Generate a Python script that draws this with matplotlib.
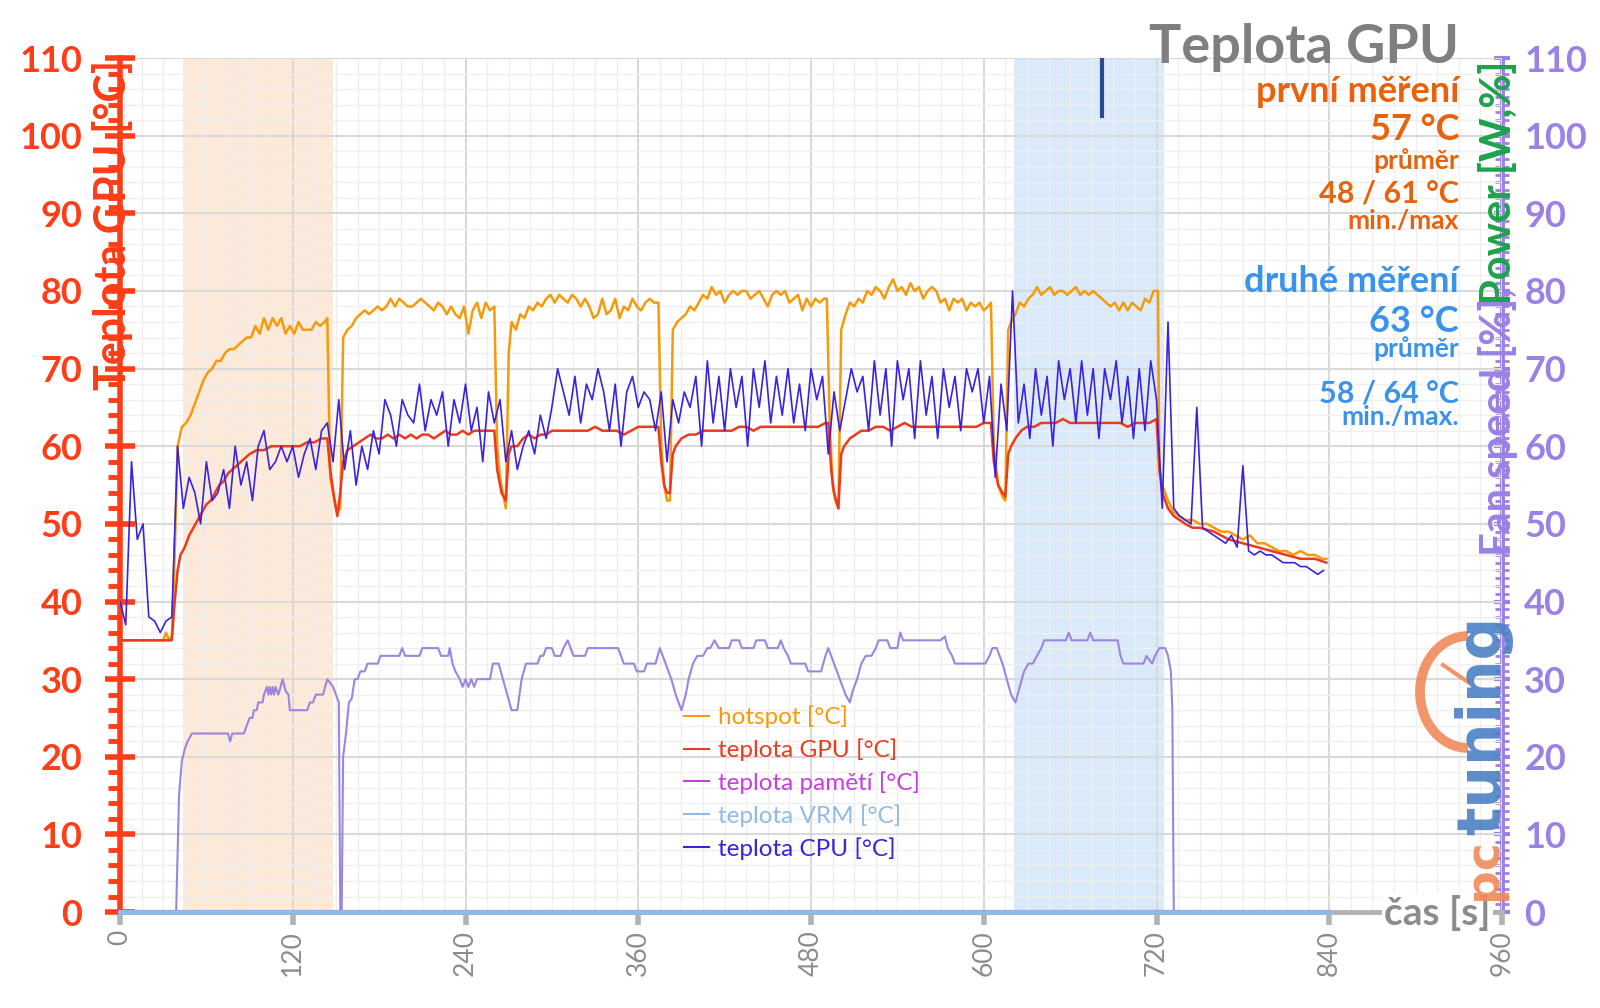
import numpy as np
import matplotlib
matplotlib.use("Agg")
import matplotlib.pyplot as plt
from matplotlib.patches import Arc
from matplotlib.lines import Line2D
from matplotlib.transforms import IdentityTransform

plt.rcParams["font.family"] = ["Lato", "DejaVu Sans"]

# ---- data ----
hot_t = [0, 30, 32, 34, 36, 38, 40, 43, 46, 49, 52, 55, 58, 61, 64, 67, 70, 73, 76, 79, 82, 85, 88, 91, 94, 97,
         100, 103, 106, 109, 112, 115, 118, 121, 124, 127, 130, 133, 136, 139, 142, 144, 146, 148, 151, 153, 155,
         158, 161, 164, 167, 170, 173, 176, 179, 182, 185, 188, 191, 194, 197, 200, 203, 206, 209, 212, 215, 218,
         221, 224, 227, 230, 233, 236, 239, 242, 245, 248, 251, 254, 257, 260, 262, 264, 266, 268, 270, 272, 275,
         278, 281, 284, 287, 290, 293, 296, 299, 302, 305, 308, 311, 314, 317, 320, 323, 326, 329, 332, 335, 338,
         341, 344, 347, 350, 353, 356, 359, 362, 365, 368, 371, 374, 376, 378, 380, 382, 384, 387, 390, 393, 396,
         399, 402, 405, 408, 411, 414, 417, 420, 423, 426, 429, 432, 435, 438, 441, 444, 447, 450, 453, 456, 459,
         462, 465, 468, 471, 474, 477, 480, 483, 486, 489, 491, 493, 495, 497, 499, 501, 504, 507, 510, 513, 516,
         519, 522, 525, 528, 531, 534, 537, 540, 543, 546, 549, 552, 555, 558, 561, 564, 567, 570, 573, 576, 579,
         582, 585, 588, 591, 594, 597, 600, 603, 605, 607, 610, 613, 615, 617, 619, 622, 625, 628, 631, 634, 637,
         640, 643, 646, 649, 652, 655, 658, 661, 664, 667, 670, 673, 676, 679, 682, 685, 688, 691, 694, 697, 700,
         703, 706, 709, 712, 715, 718, 721, 722, 724, 728, 732, 736, 740, 745, 750, 755, 760, 765, 770, 775, 780,
         785, 790, 795, 800, 805, 810, 815, 820, 825, 830, 835, 838]
hot_v = [35, 35, 36, 35, 35.5, 46, 60, 62.5, 63, 64, 65.5, 67, 68.5, 69.5, 70, 71, 71, 72, 72.5, 72.5, 73, 73.5, 74,
         74, 75.5, 74.5, 76.5, 75, 76.5, 75.5, 76.5, 74.5, 75.5, 74.5, 76, 75, 75, 75, 76, 75.5, 76, 76.5, 56, 54,
         51.5, 52, 74, 75, 75.5, 76.5, 77, 77.5, 77, 77.5, 78, 77.5, 78, 79, 78, 79, 78.5, 78, 78, 78.5, 79, 78.5,
         78, 77.5, 78.5, 78, 77, 78, 77, 76.5, 78, 74.5, 77.5, 78.5, 76.5, 78.5, 77.5, 78, 60, 56, 54, 52, 72, 76,
         75, 77, 76.5, 78, 77.5, 78.5, 78, 79, 79.5, 78.5, 79.5, 79, 78.5, 79.5, 79, 78, 79, 78, 76.5, 77, 79, 77,
         77.5, 79, 76.5, 78, 77.5, 79, 78, 77.5, 78.5, 79, 78.5, 78.5, 60, 55, 53, 53, 75, 76, 76.5, 77, 78, 77.5,
         78.5, 79.5, 79, 80.5, 79.5, 80, 78.5, 79.5, 80, 79.5, 80, 80, 79, 79.5, 80, 79, 78, 79.5, 80, 79.5, 80,
         78.5, 79, 79.5, 77.5, 79, 78, 79, 78.5, 79, 79, 63, 55, 53, 52, 75, 77, 78.5, 78, 79, 78.5, 80, 79.5, 80.5,
         80, 79, 80.5, 81.5, 80, 80.5, 79.5, 81, 80, 80.5, 79, 80, 80.5, 80, 78.5, 79, 77.5, 79, 78.5, 79, 77.5,
         78.5, 78, 78.5, 77.5, 78, 78.5, 60, 55, 53.5, 53, 75, 76, 77, 78.5, 78, 79, 79.5, 80.5, 79.5, 80, 80.5,
         79.5, 80, 80, 79.5, 80, 80.5, 79.5, 80, 79.5, 80, 79.5, 79, 78.5, 78, 78.5, 77.5, 78.5, 77.5, 78.5, 78,
         77.5, 79, 78.5, 80, 80, 57, 55, 53, 51.5, 51, 50.5, 50.5, 50, 50, 49.5, 49, 49, 48.5, 48, 48.5, 47.5,
         47.5, 47, 46.5, 46.5, 46, 46.5, 46, 46, 45.5, 45.5]

gpu_t = [0, 36, 38, 40, 42, 45, 48, 51, 54, 57, 60, 63, 66, 69, 72, 75, 78, 81, 84, 87, 90, 95, 100, 105, 110, 115,
         120, 125, 130, 135, 140, 144, 146, 149, 151, 153, 155, 158, 162, 166, 170, 174, 178, 182, 186, 190, 194,
         198, 202, 206, 210, 214, 218, 222, 226, 230, 234, 238, 242, 246, 250, 254, 258, 260, 262, 265, 268, 270,
         272, 276, 280, 284, 288, 292, 296, 300, 305, 310, 315, 320, 325, 330, 335, 340, 345, 350, 355, 360, 365,
         370, 374, 376, 378, 380, 382, 384, 386, 390, 395, 400, 405, 410, 415, 420, 425, 430, 435, 440, 445, 450,
         455, 460, 465, 470, 475, 480, 485, 490, 492, 494, 496, 499, 501, 503, 507, 511, 515, 520, 525, 530, 535,
         540, 545, 550, 555, 560, 565, 570, 575, 580, 585, 590, 595, 600, 605, 607, 610, 613, 615, 617, 619, 622,
         626, 630, 635, 640, 645, 650, 655, 660, 665, 670, 675, 680, 685, 690, 695, 700, 705, 710, 715, 720, 722,
         724, 728, 732, 736, 740, 745, 750, 760, 770, 780, 790, 800, 810, 820, 830, 838]
gpu_v = [35, 35, 40, 44, 46, 47, 48.5, 49.5, 50.5, 51.5, 52.5, 53, 54, 55, 55.5, 56.5, 57, 57.5, 58, 58.5, 59, 59.5,
         59.5, 60, 60, 60, 60, 60, 60.5, 60.5, 61, 61, 57, 53, 51, 54, 58, 59.5, 60, 60.5, 61, 61.5, 61, 61, 61.5,
         61, 61.5, 61, 61.5, 61, 61.5, 61.5, 61, 61.5, 62, 61.5, 61.5, 62, 61.5, 62, 62, 62, 62, 62, 57, 54, 53,
         59, 60, 60, 61, 61.5, 61, 61.5, 61.5, 62, 62, 62, 62, 62, 62, 62.5, 62, 62, 62, 61.5, 62, 62.5, 62.5,
         62.5, 62.5, 58, 55, 54, 54, 59, 60, 61, 61.5, 61.5, 62, 62, 62, 62, 62, 62.5, 62.5, 62, 62.5, 62.5, 62.5,
         62.5, 62.5, 62.5, 62.5, 62.5, 62.5, 63, 63, 57, 54, 52, 59, 60, 61, 61.5, 62, 62, 62.5, 62.5, 62, 62.5,
         63, 62.5, 62.5, 62.5, 62.5, 62.5, 62.5, 62.5, 62.5, 62.5, 62.5, 63, 63, 58, 55, 54, 53.5, 59, 60, 61, 62,
         62.5, 62.5, 63, 63, 63, 63.5, 63, 63, 63, 63, 63, 63, 63, 63, 62.5, 63, 63, 63, 63.5, 57, 54, 52, 51,
         50.5, 50, 49.5, 49.5, 49, 48, 47.5, 47, 46.5, 46, 45.5, 45.5, 45]

# CPU sampled every 4 s
cpu_step = 4
cpu_v = [40, 37, 58, 48, 50, 38, 37.5, 36, 37.5, 38, 60, 52, 56, 54, 50, 58, 53, 54, 57, 52, 60, 55, 58, 53, 60,
         62, 57, 58, 60, 58, 60, 56, 59, 61, 57, 62, 63, 58, 66, 57, 62, 55, 60, 57, 62, 59, 66, 64, 60, 66, 64,
         63, 68, 62, 66, 64, 67, 60, 66, 63, 68, 62, 65, 58, 67, 63, 66, 58, 62, 57, 60, 62, 59, 64, 61, 65, 70,
         67, 64, 69, 63, 68, 66, 70, 67, 62, 68, 60, 67, 69, 65, 67, 66, 62, 67, 58, 66, 63, 67, 65, 69, 60, 71,
         63, 69, 62, 70, 65, 69, 60, 70, 65, 71, 63, 69, 64, 70, 63, 68, 62, 70, 66, 69, 59, 67, 62, 66, 70, 67,
         69, 62, 71, 64, 70, 60, 71, 66, 70, 61, 71, 64, 69, 61, 70, 65, 69, 62, 70, 67, 70, 63, 69, 56, 68, 62,
         80, 63, 68, 61, 70, 64, 69, 60, 71, 66, 70, 63, 71, 64, 70, 61, 70, 66, 71, 63, 69, 61, 70, 62, 71, 66,
         52, 76, 52, 51, 50.5, 50, 65, 49.5, 49, 48.5, 48, 47.5, 48.5, 47, 57.5, 46.5, 46, 46.5, 46, 46, 45.5,
         45, 45, 45, 44.5, 44.5, 44, 43.5, 44]
cpu_t = np.arange(len(cpu_v)) * cpu_step

fan_t = [0, 39, 41, 43, 45, 47, 50, 75, 76.5, 78, 86, 88, 90, 92, 93, 95, 96, 99, 100, 102, 103, 104, 105, 106, 107,
         108, 110, 113, 115, 117, 118, 130, 132, 134, 136, 141, 144, 146, 148, 150, 152, 153, 154, 155, 157, 159,
         161, 163, 165, 167, 170, 172, 179, 181, 194, 196, 198, 208, 210, 221, 223, 228, 229, 231, 233, 236, 238,
         240, 242, 244, 246, 248, 257, 259, 263, 266, 269, 272, 276, 279, 282, 290, 292, 294, 296, 300, 302, 306,
         308, 311, 313, 315, 323, 325, 346, 348, 350, 357, 359, 364, 366, 372, 375, 377, 379, 383, 386, 390, 393,
         395, 398, 401, 405, 408, 410, 413, 416, 423, 425, 430, 432, 440, 442, 448, 450, 457, 459, 461, 464, 466,
         476, 478, 487, 490, 492, 494, 496, 500, 504, 507, 509, 512, 515, 518, 522, 525, 527, 533, 535, 540, 542,
         544, 570, 573, 575, 578, 580, 601, 604, 606, 609, 611, 613, 616, 619, 622, 625, 628, 631, 634, 637, 640,
         642, 657, 659, 661, 672, 674, 676, 693, 695, 697, 711, 713, 715, 717, 719, 722, 726, 728, 730, 731, 732,
         840]
fan_v = [0, 0, 15, 19.5, 21, 22, 23, 23, 22, 23, 23, 24, 25, 25, 26, 26, 27, 27, 28, 29, 28, 29, 28, 29, 28, 29, 28,
         30, 28.5, 28, 26, 26, 27, 27, 28, 28, 30, 29.5, 29, 28, 27, 0, 0, 20, 23, 27, 27.5, 30, 30, 31, 31, 32,
         32, 33, 33, 34, 33, 33, 34, 34, 33, 33, 34, 32, 31, 30, 29, 30, 29, 30, 29, 30, 30, 32, 32, 30, 28, 26,
         26, 30, 32, 32, 33, 33, 34, 34, 33, 33, 34, 35, 34, 33, 33, 34, 34, 33, 32, 32, 31, 31, 32, 32, 34, 33,
         32, 30, 28, 26, 28, 30, 32, 33, 33, 34, 34, 35, 34, 34, 35, 35, 34, 34, 35, 35, 34, 34, 35, 34, 33, 32,
         32, 31, 31, 33, 34, 33, 32, 30, 28, 27, 28.5, 30, 32, 33, 33, 34, 35, 35, 34, 34, 36, 35, 35, 35.5, 34,
         33, 32, 32, 33, 34, 34, 33, 32, 30, 28, 27, 29, 31, 32, 32, 33, 34, 35, 35, 36, 35, 35, 36, 35, 35, 33,
         32, 32, 33, 32.5, 32, 33, 34, 34, 33, 31, 26, 0, 0]

zero_t = [0, 840]
zero_v = [0, 0]
spike_t = [682, 682]
spike_v = [102.5, 110]

first_run = (44, 148)
second_run = (621, 725)

c_hot = "#f59a0a"
c_gpu = "#ee3a1c"
c_mem = "#c83ee0"
c_vrm = "#8fbbe6"
c_cpu = "#3a22e0"
c_fan = "#9a86e0"
c_left = "#ff3d17"
c_right = "#9b80e6"
c_gray = "#8c8c8c"

fig = plt.figure(figsize=(16, 10.08), dpi=100)
ax = fig.add_axes([0.075, 0.0952, 0.86375, 0.8472])
ax2 = ax.twinx()

ax.axvspan(*first_run, color="#fde9d8", zorder=0.1, lw=0)
ax.axvspan(*second_run, color="#dbeafb", zorder=0.1, lw=0)

ax.set_xlim(0, 960)
ax.set_ylim(0, 110)
ax2.set_ylim(0, 110)
ax.set_xticks(range(0, 961, 120))
ax.set_xticks(range(0, 961, 15), minor=True)
ax.set_yticks(range(0, 111, 10))
ax.set_yticks(range(0, 111, 2), minor=True)
ax2.set_yticks(range(0, 111, 10))
ax2.set_yticks(range(0, 111, 1), minor=True)
ax.set_axisbelow(True)
ax.grid(which="major", color="#d9d9d9", lw=1.5)
ax.grid(which="minor", color="#efefef", lw=1)

ax.plot(fan_t, fan_v, color=c_fan, lw=1.5, zorder=2)
ax.plot(hot_t, hot_v, color=c_hot, lw=1.8, label="hotspot [°C]", zorder=3)
ax.plot(gpu_t, gpu_v, color=c_gpu, lw=1.8, label="teplota GPU [°C]", zorder=3.5)
ax.plot(cpu_t, cpu_v, color=c_cpu, lw=1.2, label="teplota CPU [°C]", zorder=4)
ax.plot(spike_t, spike_v, color="#2a4a8a", lw=3, zorder=4)
ax.plot(zero_t, zero_v, color=c_mem, lw=3, label="teplota pamětí [°C]", zorder=4.5, clip_on=False)
ax.plot(zero_t, zero_v, color=c_vrm, lw=3.5, label="teplota VRM [°C]", zorder=5, clip_on=False)

ax.patch.set_visible(False)
ax2.set_zorder(-1)
ax2.patch.set_facecolor("white")

for a in (ax, ax2):
    a.spines["top"].set_visible(False)
ax.spines["right"].set_visible(False)
ax2.spines["left"].set_visible(False)
ax2.spines["bottom"].set_visible(False)
ax.spines["left"].set_color(c_left)
ax.spines["left"].set_linewidth(4)
ax2.spines["right"].set_color(c_right)
ax2.spines["right"].set_linewidth(3.5)
ax.spines["bottom"].set_color("#b3b3b3")
ax.spines["bottom"].set_linewidth(3.5)

ax.tick_params(axis="y", which="major", colors=c_left, direction="inout", length=22, width=4,
               labelsize=26, pad=16)
ax.tick_params(axis="y", which="minor", colors=c_left, direction="out", length=9, width=3.5)
for lab in ax.get_yticklabels():
    lab.set_fontweight("bold")
ax.tick_params(axis="x", which="major", colors="#b3b3b3", direction="out", length=9, width=4,
               labelsize=19, labelcolor=c_gray, labelrotation=90, pad=4)
ax.tick_params(axis="x", which="minor", length=0)
ax2.tick_params(axis="y", which="major", colors=c_right, direction="inout", length=12, width=3,
                labelsize=26, pad=10)
ax2.tick_params(axis="y", which="minor", colors=c_right, direction="inout", length=10, width=2)
for lab in ax2.get_yticklabels():
    lab.set_fontweight("bold")

# axis titles
fig.text(113 / 1600, 1 - 225 / 1008, "Teplota GPU [°C]", color=c_left, fontsize=31, fontweight="bold",
         rotation=90, ha="center", va="center")
fig.text(1498 / 1600, 1 - 61 / 1008, "Power [W,%]", color="#1fa24c", fontsize=30, fontweight="bold",
         rotation=90, ha="center", va="top")
fig.text(1498 / 1600, 1 - 288 / 1008, "Fan speed [%],", color=c_right, fontsize=30, fontweight="bold",
         rotation=90, ha="center", va="top")

ax.text(0.992, -0.001, "čas [s]", transform=ax.transAxes, ha="right", va="center", color=c_gray,
        fontsize=28, fontweight="bold", bbox=dict(boxstyle="square,pad=0.05", fc="white", ec="none"),
        zorder=6)

# headline block
rx = 1459 / 1600
fig.text(rx, 1 - 48 / 1008, "Teplota GPU", color="#7f7f7f", fontsize=39, fontweight="bold",
         ha="right", va="center")
orange_txt = "#e8620c"
blue_txt = "#3a93ea"
rows = [
    ("první měření", 92, 26, orange_txt),
    ("57 °C", 129, 26, orange_txt),
    ("průměr", 161, 19, orange_txt),
    ("48 / 61 °C", 194, 22, orange_txt),
    ("min./max", 221, 19, orange_txt),
    ("druhé měření", 281, 26, blue_txt),
    ("63 °C", 321, 26, blue_txt),
    ("průměr", 349, 19, blue_txt),
    ("58 / 64 °C", 393, 22, blue_txt),
    ("min./max.", 417, 19, blue_txt),
]
for txt, y, fs, col in rows:
    fig.text(rx, 1 - y / 1008, txt, color=col, fontsize=fs, fontweight="bold", ha="right", va="center")

handles, labels = ax.get_legend_handles_labels()
order = ["hotspot [°C]", "teplota GPU [°C]", "teplota pamětí [°C]", "teplota VRM [°C]", "teplota CPU [°C]"]
hmap = dict(zip(labels, handles))
leg = ax.legend([hmap[k] for k in order], order, loc="upper left", bbox_to_anchor=(0.3995, 0.256),
                frameon=False, fontsize=17.5, handlelength=1.0, handletextpad=0.4, labelspacing=0.42,
                borderpad=0, labelcolor="linecolor")
for line in leg.get_lines():
    line.set_linewidth(1.5)

# pctuning logo (watermark)
logo_or = "#f08a5a"
logo_bl = "#4a80c4"
fig.add_artist(Arc((1468, 1008 - 692), 96, 112, theta1=90, theta2=270, color=logo_or, lw=7,
                   transform=IdentityTransform(), alpha=0.9))
fig.add_artist(Line2D([1443, 1468], [1008 - 665, 1008 - 682], color=logo_or, lw=3,
                      transform=IdentityTransform(), alpha=0.9))
fig.text(1484 / 1600, 1 - 900 / 1008, "pc", color=logo_or, fontsize=34, fontweight="bold",
         family="DejaVu Sans", rotation=90, ha="center", va="bottom", alpha=0.9)
fig.text(1484 / 1600, 1 - 835 / 1008, "tuning", color=logo_bl, fontsize=43, fontweight="bold",
         family="DejaVu Sans", rotation=90, ha="center", va="bottom", alpha=0.9)

fig.savefig("out.png", dpi=100, facecolor="white")
